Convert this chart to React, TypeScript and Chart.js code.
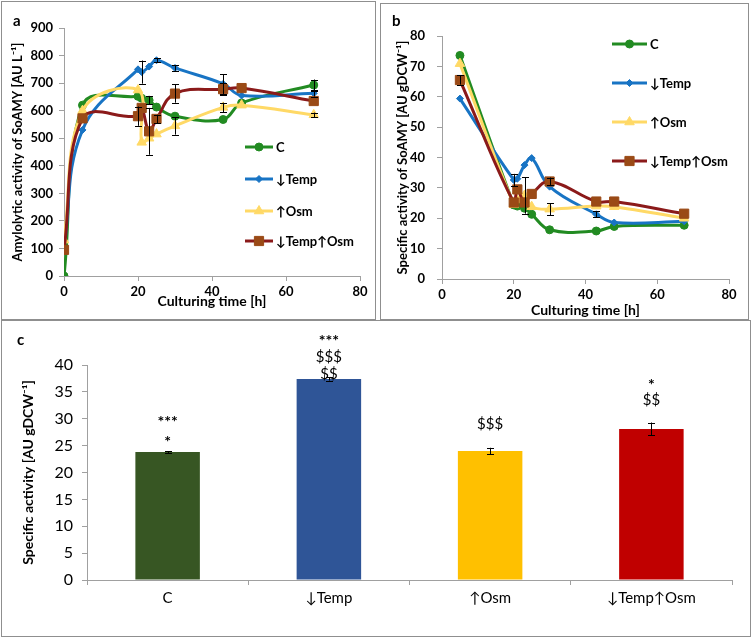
import React, { useEffect, useRef } from 'react';
import { Chart, registerables } from 'chart.js';
import { drawPoint } from 'chart.js/helpers';

Chart.register(...registerables);

const FONT = "Lato, 'DejaVu Sans', sans-serif";

// ---------- Data ----------
const seriesLabels = ['C', '↓Temp', '↑Osm', '↓Temp↑Osm'];

// Panel a: amylolytic activity [AU L-1]
const timesA = [0, 5, 20, 21, 23, 25, 30, 43, 48, 67.5];
const amylC = [0, 620, 652, 645, 638, 613, 580, 568, 628, 693];
const amylTemp = [100, 530, 750, 740, 760, 783, 755, 697, 655, 663];
const amylOsm = [130, 600, 675, 485, 500, 515, 545, 612, 620, 585];
const amylTempOsm = [95, 572, 580, 610, 525, 570, 662, 678, 682, 635];
const amylErrC = [0, 0, 0, 0, 15, 0, 0, 0, 0, 20];
const amylErrTemp = [0, 0, 0, 42, 0, 8, 10, 36, 0, 12];
const amylErrOsm = [0, 0, 0, 0, 0, 0, 32, 17, 0, 8];
const amylErrTempOsm = [0, 0, 35, 0, 85, 15, 33, 22, 0, 0];

// Panel b: specific activity [AU gDCW-1]
const timesB = [5, 20, 21, 23, 25, 30, 43, 48, 67.5];
const specC = [73.6, 24.4, 24.0, 23.3, 21.3, 16.2, 15.8, 17.3, 17.7];
const specTemp = [59.4, 32.6, 33.0, 37.5, 39.8, 30.4, 21.3, 18.6, 19.0];
const specOsm = [70.9, 24.5, 26.0, 27.5, 23.8, 23.0, 24.0, 23.8, 20.0];
const specTempOsm = [65.5, 25.2, 29.5, 25.2, 28.0, 32.1, 25.5, 25.5, 21.5];
const specErrC = [0, 0, 0, 0, 0, 0, 0, 0, 0];
const specErrTemp = [0, 2, 0, 0, 0, 0, 1, 0, 0];
const specErrOsm = [0, 0, 0, 6, 0, 2, 0, 0, 0];
const specErrTempOsm = [1.5, 0, 0, 0, 0, 1.3, 0, 0, 0];

// Panel c: mean specific activity
const barCategories = ['C', '↓Temp', '↑Osm', '↓Temp↑Osm'];
const barValues = [23.8, 37.4, 24.0, 28.1];
const barErrors = [0.2, 0.3, 0.6, 1.2];
const sigTexts = [['***', '*'], ['***', '$$$', '$$'], ['$$$'], ['*', '$$']];
const sigLevels = [[30.4, 26.6], [45.4, 41.5, 38.3], [29.0], [37.2, 33.5]];

// ---------- Styles ----------
const lineStyles = [
  { line: '#228B22', fill: '#228B22', style: 'circle', r: 4 },
  { line: '#1874C4', fill: '#1874C4', style: 'rectRot', r: 3.5 },
  { line: '#FFD966', fill: '#FFD966', style: 'triangle', r: 5.5 },
  { line: '#8B1A1A', fill: '#9A4A16', style: 'rect', r: 6.5 },
];
const barColors = ['#375623', '#2F5597', '#FFC000', '#C00000'];
const AXIS = '#A0A0A0';

// ---------- Plugins ----------
const fixSize = (size: number, vertical: boolean) => (scale: any) => {
  if (vertical) scale.width = size;
  else scale.height = size;
  scale.paddingTop = 0;
  scale.paddingBottom = 0;
  scale.paddingLeft = 0;
  scale.paddingRight = 0;
};

const yOf = (d: any) => (typeof d === 'number' ? d : d.y);

const errorBarPlugin = {
  id: 'errBars',
  afterDatasetsDraw(chart: any) {
    const ctx = chart.ctx;
    chart.data.datasets.forEach((ds: any, i: number) => {
      const errs = ds.errors;
      if (!errs) return;
      const meta = chart.getDatasetMeta(i);
      const ys = chart.scales[meta.yAxisID];
      ctx.save();
      ctx.strokeStyle = '#000';
      ctx.lineWidth = 1;
      meta.data.forEach((el: any, j: number) => {
        const e = errs[j];
        if (!e) return;
        const v = yOf(ds.data[j]);
        const x = Math.round(el.x) + 0.5;
        const t = ys.getPixelForValue(v + e);
        const b = ys.getPixelForValue(v - e);
        ctx.beginPath();
        ctx.moveTo(x, t);
        ctx.lineTo(x, b);
        ctx.moveTo(x - 3.5, Math.round(t) + 0.5);
        ctx.lineTo(x + 3.5, Math.round(t) + 0.5);
        ctx.moveTo(x - 3.5, Math.round(b) + 0.5);
        ctx.lineTo(x + 3.5, Math.round(b) + 0.5);
        ctx.stroke();
      });
      ctx.restore();
    });
  },
};

const sideLegendPlugin = {
  id: 'sideLegend',
  afterDraw(chart: any, _a: any, opts: any) {
    const ctx = chart.ctx;
    chart.data.datasets.forEach((ds: any, i: number) => {
      const y = opts.ys[i];
      const x0 = opts.x;
      const x1 = opts.x + opts.len;
      ctx.save();
      ctx.strokeStyle = ds.borderColor;
      ctx.lineWidth = ds.borderWidth;
      ctx.beginPath();
      ctx.moveTo(x0, y);
      ctx.lineTo(x1, y);
      ctx.stroke();
      ctx.fillStyle = ds.pointBackgroundColor;
      ctx.strokeStyle = ds.pointBorderColor;
      ctx.lineWidth = 1;
      drawPoint(ctx, { pointStyle: ds.pointStyle, radius: ds.pointRadius, rotation: 0, borderWidth: 1 } as any, (x0 + x1) / 2, y);
      ctx.fillStyle = '#000';
      ctx.font = `bold 13px ${FONT}`;
      ctx.textAlign = 'left';
      ctx.textBaseline = 'middle';
      ctx.fillText(ds.label, x1 + 3, y + 1);
      ctx.restore();
    });
  },
};

const sigPlugin = {
  id: 'sigMarks',
  afterDatasetsDraw(chart: any) {
    const ctx = chart.ctx;
    const meta = chart.getDatasetMeta(0);
    const ys = chart.scales.y;
    ctx.save();
    ctx.fillStyle = '#000';
    ctx.textAlign = 'center';
    ctx.textBaseline = 'middle';
    sigTexts.forEach((texts, i) => {
      texts.forEach((txt, k) => {
        const star = txt[0] === '*';
        ctx.font = star ? `bold 16px ${FONT}` : `15px ${FONT}`;
        ctx.fillText(txt, meta.data[i].x, ys.getPixelForValue(sigLevels[i][k]) + (star ? 5 : 0));
      });
    });
    ctx.restore();
  },
};

// ---------- Config builders ----------
function lineDatasets(times: number[], series: number[][], errs: number[][]) {
  return series.map((vals, i) => ({
    label: seriesLabels[i],
    data: vals.map((v, j) => ({ x: times[j], y: v })),
    errors: errs[i],
    borderColor: lineStyles[i].line,
    backgroundColor: lineStyles[i].fill,
    borderWidth: 3,
    pointStyle: lineStyles[i].style,
    pointRadius: lineStyles[i].r,
    pointBackgroundColor: lineStyles[i].fill,
    pointBorderColor: lineStyles[i].fill,
    pointBorderWidth: 1,
    tension: 0.4,
    order: 3 - i,
  }));
}

const boldFont = (size: number) => ({ family: FONT, size, weight: 700 as any, style: 'normal' as const });

function lineConfig(
  datasets: any[],
  yMax: number,
  yStep: number,
  yTitle: string,
  sizes: { yw: number; xh: number; pad: any; yTitlePad: number; xTitlePad: number; yTickPad: number },
  legend: { x: number; len: number; ys: number[] }
): any {
  return {
    type: 'line',
    data: { datasets },
    options: {
      animation: false,
      responsive: false,
      layout: { padding: sizes.pad },
      plugins: {
        legend: { display: false },
        tooltip: { enabled: false },
        sideLegend: legend,
      },
      scales: {
        x: {
          type: 'linear',
          min: 0,
          max: 80,
          ticks: { stepSize: 20, color: '#000', font: boldFont(13), padding: 3, maxRotation: 0 },
          grid: { drawOnChartArea: false, tickLength: 5, color: AXIS },
          border: { color: AXIS },
          title: { display: true, text: 'Culturing time [h]', color: '#000', font: boldFont(14), padding: { top: 0, bottom: sizes.xTitlePad } },
          afterFit: fixSize(sizes.xh, false),
        },
        y: {
          min: 0,
          max: yMax,
          ticks: { stepSize: yStep, color: '#000', font: boldFont(13), padding: sizes.yTickPad },
          grid: { drawOnChartArea: false, tickLength: 5, color: AXIS },
          border: { color: AXIS },
          title: { display: true, text: yTitle, color: '#000', font: boldFont(13), padding: { top: sizes.yTitlePad, bottom: 0 } },
          afterFit: fixSize(sizes.yw, true),
        },
      },
    },
    plugins: [errorBarPlugin, sideLegendPlugin],
  };
}

function configA() {
  return lineConfig(
    lineDatasets(timesA, [amylC, amylTemp, amylOsm, amylTempOsm], [amylErrC, amylErrTemp, amylErrOsm, amylErrTempOsm]),
    900,
    100,
    'Amylolytic activity of SoAMY [AU L⁻¹]',
    { yw: 64, xh: 43, pad: { left: 0, top: 28, right: 15, bottom: 0 }, yTitlePad: 10, xTitlePad: 9, yTickPad: 6 },
    { x: 245, len: 28, ys: [147, 179, 211, 241] }
  );
}

function configB() {
  return lineConfig(
    lineDatasets(timesB, [specC, specTemp, specOsm, specTempOsm], [specErrC, specErrTemp, specErrOsm, specErrTempOsm]),
    80,
    10,
    'Specific activity of SoAMY [AU gDCW⁻¹]',
    { yw: 62, xh: 40, pad: { left: 0, top: 36, right: 19, bottom: 0 }, yTitlePad: 15, xTitlePad: 0, yTickPad: 12 },
    { x: 232, len: 35, ys: [44, 83, 122, 161] }
  );
}

function configC(): any {
  return {
    type: 'bar',
    data: {
      labels: barCategories,
      datasets: [
        {
          data: barValues,
          errors: barErrors,
          backgroundColor: barColors,
          borderWidth: 0,
          barPercentage: 0.4,
          categoryPercentage: 1,
        },
      ],
    },
    options: {
      animation: false,
      responsive: false,
      layout: { padding: { left: 0, top: 45, right: 20, bottom: 0 } },
      plugins: { legend: { display: false }, tooltip: { enabled: false } },
      scales: {
        x: {
          ticks: { color: '#000', font: { family: FONT, size: 15 }, padding: 4, maxRotation: 0 },
          grid: { drawOnChartArea: false, tickLength: 5, color: AXIS, offset: true },
          border: { color: AXIS },
          afterFit: fixSize(58, false),
        },
        y: {
          min: 0,
          max: 40,
          ticks: { stepSize: 5, color: '#000', font: { family: FONT, size: 16 }, padding: 9 },
          grid: { drawOnChartArea: false, tickLength: 5, color: AXIS },
          border: { color: AXIS },
          title: { display: true, text: 'Specific activity [AU gDCW⁻¹]', color: '#000', font: boldFont(14), padding: { top: 20, bottom: 0 } },
          afterFit: fixSize(87, true),
        },
      },
    },
    plugins: [errorBarPlugin, sigPlugin],
  };
}

// ---------- Components ----------
function ChartCanvas({ make, left, top, width, height }: { make: () => any; left: number; top: number; width: number; height: number }) {
  const ref = useRef<HTMLCanvasElement>(null);
  useEffect(() => {
    const chart = new Chart(ref.current as HTMLCanvasElement, make());
    return () => chart.destroy();
  }, []);
  return (
    <canvas
      ref={ref}
      width={width}
      height={height}
      style={{ position: 'absolute', left, top, width, height, display: 'block' }}
    />
  );
}

const boxStyle = (left: number, top: number, width: number, height: number): React.CSSProperties => ({
  position: 'absolute',
  left,
  top,
  width,
  height,
  boxSizing: 'border-box',
  border: '1px solid #8F8F8F',
  pointerEvents: 'none',
});

const panelLabel = (left: number, top: number): React.CSSProperties => ({
  position: 'absolute',
  left,
  top,
  font: `bold 15px ${FONT}`,
  lineHeight: '15px',
  color: '#000',
});

export default function App() {
  return (
    <div style={{ position: 'absolute', left: 0, top: 0, width: 752, height: 638, background: '#fff', overflow: 'hidden' }}>
      <ChartCanvas make={configA} left={0} top={0} width={375} height={319} />
      <ChartCanvas make={configB} left={380} top={0} width={368} height={319} />
      <ChartCanvas make={configC} left={0} top={320} width={752} height={318} />
      <div style={boxStyle(1, 1, 375, 319)} />
      <div style={boxStyle(380, 3, 369, 317)} />
      <div style={boxStyle(1, 320, 750, 317)} />
      <div style={panelLabel(13, 13)}>a</div>
      <div style={panelLabel(392, 13)}>b</div>
      <div style={panelLabel(17, 332)}>c</div>
    </div>
  );
}
